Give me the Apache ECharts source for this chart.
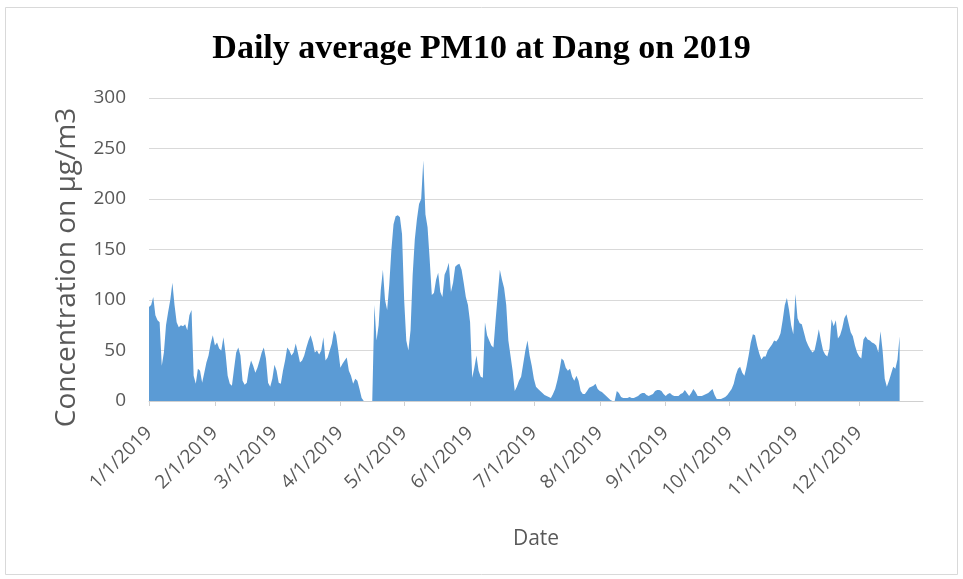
<!DOCTYPE html>
<html>
<head>
<meta charset="utf-8">
<script src="https://cdn.jsdelivr.net/npm/echarts@6/dist/echarts.min.js"></script>
<style>
html,body{margin:0;padding:0;background:#fff;}
#chart{width:963px;height:579px;}
</style>
</head>
<body>
<div id="chart"></div>
<script>
// Chart title and axis names
var titleText = 'Daily average PM10 at Dang on 2019';
var yAxisName = 'Concentration on µg/m3';
var xAxisName = 'Date';

// Y axis ticks
var yMin = 0, yMax = 300, yStep = 50;

// Daily PM10 values from 1/1/2019
var pm10 = [
  93, 95, 103, 85, 80, 78, 35, 48, 75, 88,
  100, 117, 95, 78, 73, 75, 74, 76, 70, 85,
  90, 25, 17, 32, 30, 18, 28, 38, 45, 57,
  65, 55, 58, 52, 50, 63, 47, 25, 17, 15,
  32, 48, 53, 45, 20, 16, 18, 32, 40, 35,
  28, 33, 40, 48, 53, 42, 18, 14, 22, 36,
  30, 18, 17, 30, 40, 53, 50, 45, 48, 57,
  48, 38, 40, 45, 53, 60, 65, 58, 48, 50,
  46, 50, 63, 40, 43, 50, 57, 70, 65, 50,
  33, 37, 40, 43, 30, 25, 17, 22, 20, 12,
  3, 0, 0, 0, 0, 0, 95, 60, 75, 110,
  130, 100, 90, 115, 150, 175, 183, 184, 182, 165,
  100, 60, 50, 70, 125, 160, 180, 195, 200, 238,
  185, 172, 140, 105, 107, 120, 127, 108, 103, 125,
  130, 137, 108, 117, 133, 135, 136, 130, 117, 103,
  95, 78, 23, 33, 45, 30, 24, 23, 78, 65,
  60, 55, 53, 80, 105, 130, 120, 112, 95, 60,
  45, 30, 10, 14, 20, 24, 37, 50, 60, 45,
  35, 22, 14, 12, 10, 8, 6, 5, 4, 3,
  7, 12, 20, 30, 42, 40, 33, 30, 32, 24,
  20, 25, 20, 10, 7, 7, 10, 13, 14, 15,
  17, 12, 10, 9, 7, 5, 3, 1, 0, 0,
  10, 8, 4, 3, 3, 3, 4, 3, 3, 4,
  5, 7, 8, 8, 6, 5, 6, 7, 10, 11,
  11, 10, 7, 5, 7, 8, 6, 5, 5, 5,
  7, 8, 11, 8, 5, 8, 12, 9, 5, 5,
  5, 6, 7, 8, 10, 12, 6, 2, 2, 2,
  3, 4, 6, 9, 12, 17, 26, 32, 34, 28,
  25, 34, 45, 58, 66, 65, 55, 47, 41, 44,
  44, 50, 53, 56, 60, 59, 62, 67, 80, 95,
  102, 90, 75, 66, 106, 82, 77, 76, 68, 60,
  55, 51, 48, 50, 60, 71, 60, 50, 46, 44,
  52, 81, 74, 80, 62, 65, 72, 82, 86, 77,
  68, 64, 55, 48, 44, 42, 61, 64, 61, 60,
  58, 57, 55, 48, 69, 50, 22, 14, 20, 27,
  34, 32, 41, 64
];

// Date categories: every day of 2019 (M/D/YYYY)
var dates = [];
(function () {
  var d = new Date(2019, 0, 1);
  while (d.getFullYear() === 2019) {
    dates.push((d.getMonth() + 1) + '/' + d.getDate() + '/2019');
    d.setDate(d.getDate() + 1);
  }
})();

var seriesData = dates.map(function (_, i) { return i < pm10.length ? pm10[i] : null; });

function isMonthStart(idx, val) { return dates[idx].split('/')[1] === '1'; }

var chart = echarts.init(document.getElementById('chart'), null, { renderer: 'canvas' });
chart.setOption({
  animation: false,
  backgroundColor: '#ffffff',
  graphic: [{
    type: 'rect',
    shape: { x: 5.5, y: 7.5, width: 952, height: 567 },
    style: { fill: 'none', stroke: '#d9d9d9', lineWidth: 1 },
    silent: true
  }],
  title: {
    text: titleText,
    left: 'center',
    top: 27,
    textStyle: { fontFamily: 'Liberation Serif', fontWeight: 'bold', fontSize: 34, color: '#000000' }
  },
  grid: { left: 149, right: 40, top: 98, bottom: 178, containLabel: false },
  xAxis: {
    type: 'category',
    data: dates,
    boundaryGap: false,
    name: xAxisName,
    nameLocation: 'middle',
    nameGap: 128,
    nameTextStyle: { fontFamily: 'Open Sans', fontSize: 21, color: '#595959' },
    axisLine: { lineStyle: { color: '#d0d0d0', width: 1 } },
    axisTick: { show: true, interval: isMonthStart, length: 5, lineStyle: { color: '#d0d0d0' } },
    axisLabel: {
      interval: isMonthStart,
      rotate: 45,
      margin: 29,
      fontFamily: 'Open Sans',
      fontSize: 19,
      color: '#595959'
    },
    splitLine: { show: false }
  },
  yAxis: {
    type: 'value',
    min: yMin,
    max: yMax,
    interval: yStep,
    name: yAxisName,
    nameLocation: 'middle',
    nameGap: 68,
    nameTextStyle: { fontFamily: 'Open Sans', fontSize: 28, color: '#595959', padding: [0, 36, 0, 0] },
    axisLine: { show: false },
    axisTick: { show: false },
    axisLabel: { margin: 23, fontFamily: 'Open Sans', fontSize: 19, color: '#595959' },
    splitLine: { lineStyle: { color: '#d9d9d9', width: 1 } }
  },
  series: [{
    type: 'line',
    data: seriesData,
    showSymbol: false,
    symbol: 'none',
    connectNulls: false,
    lineStyle: { width: 0, color: '#5b9bd5' },
    itemStyle: { color: '#5b9bd5' },
    areaStyle: { color: '#5b9bd5', opacity: 1 }
  }]
});
</script>
</body>
</html>
